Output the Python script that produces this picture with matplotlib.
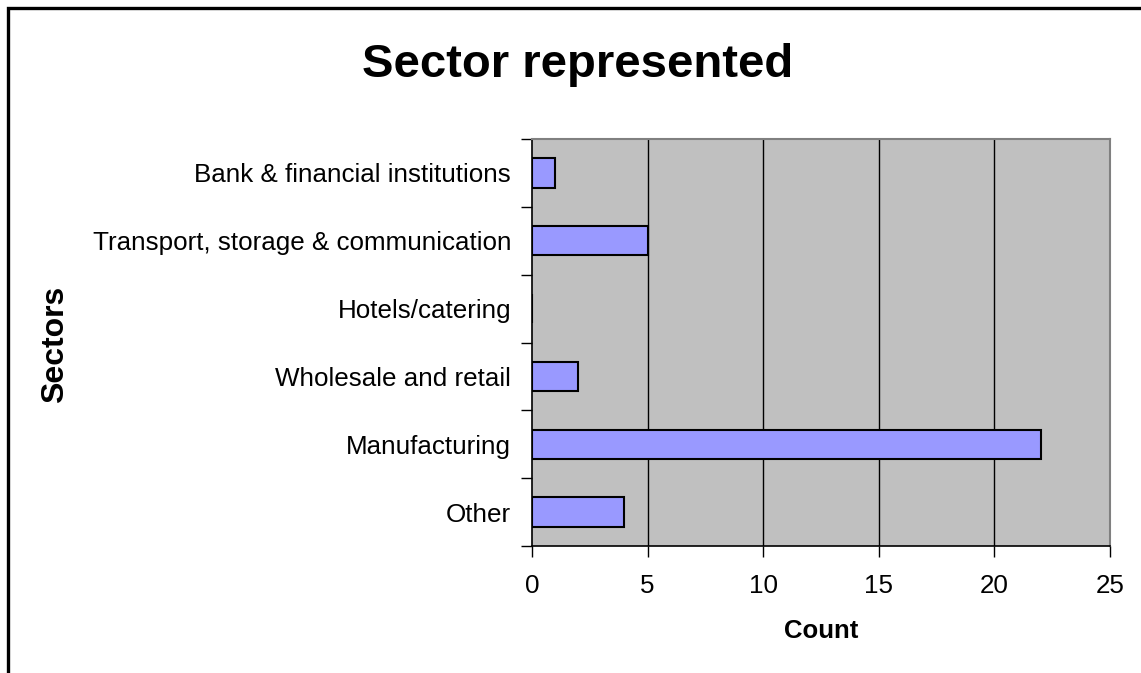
import matplotlib
matplotlib.use("Agg")
import matplotlib.pyplot as plt
from matplotlib.lines import Line2D

categories = ["Other", "Manufacturing", "Wholesale and retail", "Hotels/catering",
              "Transport, storage & communication", "Bank & financial institutions"]
counts = [4, 22, 2, 0, 5, 1]
xticks = [0, 5, 10, 15, 20, 25]

plt.rcParams['font.family'] = ['Liberation Sans', 'DejaVu Sans']

fig = plt.figure(figsize=(11.41, 6.73), dpi=100)
ax = fig.add_axes([532/1141, 1-546/673, (1110-532)/1141, (546-139)/673])
ax.set_facecolor('#C0C0C0')

ypos = list(range(len(categories)))
ax.barh(ypos, counts, height=0.43, color='#9999FF', edgecolor='black', linewidth=1.5, zorder=3)

ax.set_xlim(0, 25)
ax.set_ylim(-0.5, len(categories) - 0.5)
ax.set_xticks(xticks)
ax.set_xticklabels([str(t) for t in xticks], fontsize=18.7)
ax.set_yticks(ypos)
ax.set_yticklabels(categories, fontsize=18.7)
ax.tick_params(axis='y', length=0, pad=15)
ax.set_yticks([i - 0.5 for i in range(len(categories) + 1)], minor=True)
ax.tick_params(axis='y', which='minor', length=8, width=1)
ax.tick_params(axis='x', length=8, width=1, pad=12)

for t in xticks[1:-1]:
    ax.axvline(t, color='black', linewidth=1, zorder=1)

for s in ['left', 'bottom']:
    ax.spines[s].set_color('black')
    ax.spines[s].set_linewidth(1.2)
for s in ['top', 'right']:
    ax.spines[s].set_color('#808080')
    ax.spines[s].set_linewidth(1.5)

fig.text(821/1141, 1-631/673, 'Count', fontsize=18.5, fontweight='bold',
         ha='center', va='center')
fig.text(55/1141, 1-344/673, 'Sectors', rotation=90, fontsize=23, fontweight='bold',
         ha='center', va='center')
fig.text(578/1141, 1-65/673, 'Sector represented', fontsize=34, fontweight='bold',
         ha='center', va='center')

# outer chart border (only left and top visible; rest is cropped)
x0 = 7.5/1141
y0 = 1 - 7.5/673
fig.add_artist(Line2D([x0, x0, 1.01], [-0.01, y0, y0], transform=fig.transFigure,
                      color='black', linewidth=2.4, solid_joinstyle='miter'))

fig.savefig('out.png', dpi=100)
